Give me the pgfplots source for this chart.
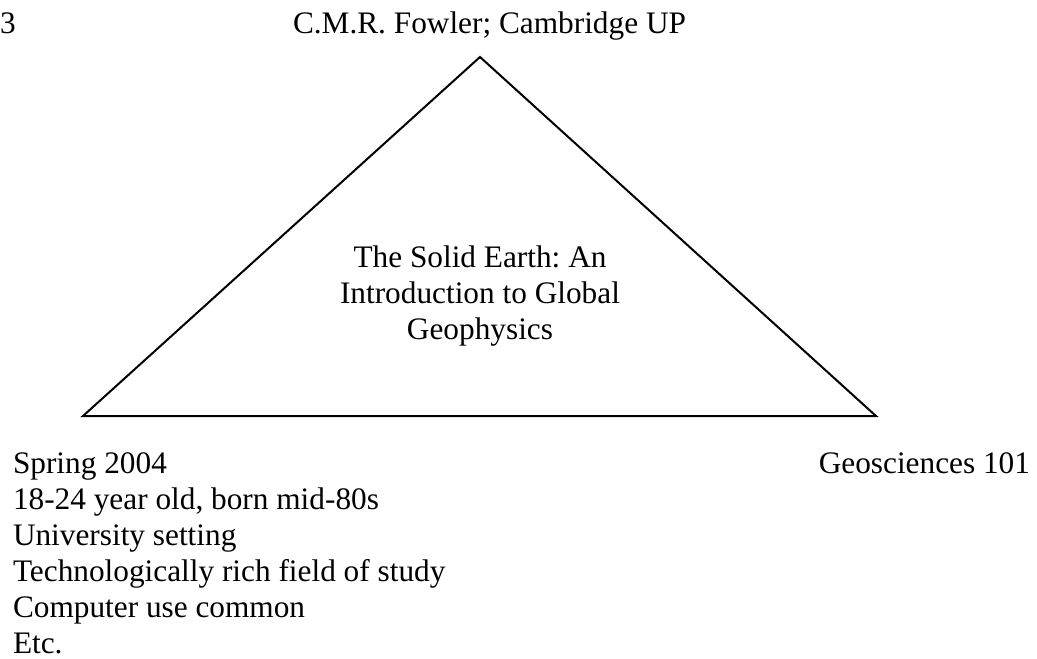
\documentclass[border=0pt]{standalone}
\usepackage{pgfplots}
\pgfplotsset{compat=1.18}
\usepackage{fontspec}
\setmainfont{Liberation Serif}
\frenchspacing
\tikzset{lbl/.style={font=\fontsize{31.3}{36}\selectfont, inner sep=0pt, outer sep=0pt, text=black}}
\begin{document}
\begin{tikzpicture}
\begin{axis}[name=ax,
  width=1037pt, height=659pt, scale only axis,
  xmin=0, xmax=1037, ymin=0, ymax=659, y dir=reverse,
  hide axis, clip=false]
\addplot[black, line width=2pt, line join=miter, mark=none] coordinates {(83,416) (480,57) (876,416)} -- cycle;
\node[lbl, anchor=base west] at (axis cs:0,33) {3};
\node[lbl, anchor=base west] at (axis cs:293,33) {C.M.R. Fowler; Cambridge UP};
\node[lbl, anchor=base] at (axis cs:480,267) {The Solid Earth: An};
\node[lbl, anchor=base] at (axis cs:480,303) {Introduction to Global};
\node[lbl, anchor=base] at (axis cs:480,339) {Geophysics};
\node[lbl, anchor=base west] at (axis cs:13,473) {Spring 2004};
\node[lbl, anchor=base west] at (axis cs:13,509) {18-24 year old, born mid-80s};
\node[lbl, anchor=base west] at (axis cs:13,545) {University setting};
\node[lbl, anchor=base west] at (axis cs:13,581) {Technologically rich field of study};
\node[lbl, anchor=base west] at (axis cs:13,617) {Computer use common};
\node[lbl, anchor=base west] at (axis cs:13,653) {Etc.};
\node[lbl, anchor=base east] at (axis cs:1030,473) {Geosciences 101};
\end{axis}
\pgfresetboundingbox
\path (ax.south west) rectangle (ax.north east);
\end{tikzpicture}
\end{document}
